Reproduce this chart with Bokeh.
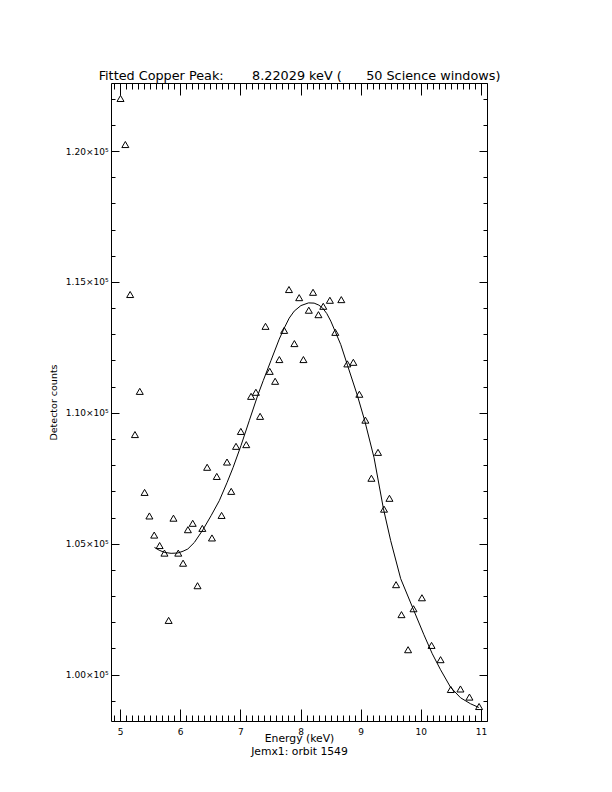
from bokeh.plotting import figure
from bokeh.models import (Range1d, LinearAxis, SingleIntervalTicker,
                          CustomJSTickFormatter)
from bokeh.embed import file_html
from bokeh.resources import INLINE

# ---- data ----
energy = [5.00, 5.08, 5.16, 5.24, 5.32, 5.40, 5.48, 5.56, 5.65, 5.73,
          5.80, 5.88, 5.96, 6.04, 6.12, 6.20, 6.28, 6.36, 6.44, 6.52,
          6.60, 6.68, 6.77, 6.84, 6.92, 7.00, 7.09, 7.17, 7.25, 7.32,
          7.41, 7.48, 7.57, 7.64, 7.72, 7.80, 7.89, 7.97, 8.04, 8.13,
          8.20, 8.29, 8.37, 8.48, 8.57, 8.67, 8.77, 8.87, 8.97, 9.07,
          9.17, 9.28, 9.38, 9.47, 9.58, 9.67, 9.78, 9.87, 10.01, 10.17,
          10.32, 10.49, 10.65, 10.80, 10.96]
counts = [121990, 120230, 114500, 109150, 110800, 106940, 106040, 105310, 104910, 104620,
          102050, 105955, 104620, 104235, 105515, 105760, 103375, 105565, 107900, 105200,
          107550, 106060, 108100, 106980, 108700, 109270, 108765, 110610, 110765, 109845,
          113285, 111565, 111185, 112015, 113130, 114690, 112625, 114380, 112015, 113900,
          114585, 113730, 114050, 114280, 113055, 114305, 111850, 111910, 110690, 109700,
          107480, 108470, 106300, 106715, 103415, 102270, 100930, 102495, 102915, 101095,
          100550, 99410, 99430, 99120, 98760]

fit_energy = [5.564, 5.642, 5.730, 5.841, 5.952, 6.040, 6.118, 6.228, 6.367, 6.505,
              6.642, 6.770, 6.870, 7.002, 7.140, 7.279, 7.372, 7.500, 7.638, 7.721,
              7.804, 7.887, 7.998, 8.125, 8.218, 8.296, 8.358, 8.429, 8.495, 8.573,
              8.661, 8.772, 8.938, 9.059, 9.214, 9.370, 9.491, 9.657, 9.877, 10.043,
              10.182, 10.320, 10.486, 10.652, 10.818, 10.956]
fit_counts = [104877, 104770, 104686, 104651, 104663, 104732, 104816, 105068, 105542, 106088,
              106662, 107350, 107923, 108764, 109719, 110675, 111248, 112013, 112834, 113255,
              113637, 113904, 114115, 114218, 114210, 114134, 114027, 113809, 113522, 113102,
              112624, 111841, 110675, 109719, 108305, 106356, 105133, 103681, 102458, 101540,
              100814, 100203, 99534, 99132, 98903, 98762]

x_min, x_max = 4.85, 11.1
y_min, y_max = 98226, 122600
x_major_step = 1
y_major_step = 5000

NB = "\u00a0"
title_text = ("Fitted Copper Peak:" + NB * 7 + "8.22029 keV (" + NB * 6 +
              "50 Science windows)")
x_label = "Energy (keV)"
y_label = "Detector counts"
sub_label = "Jemx1: orbit 1549"

FONT = "DejaVu Sans"

p = figure(width=604, height=784, output_backend="svg", toolbar_location=None,
           x_range=Range1d(x_min, x_max), y_range=Range1d(y_min, y_max),
           x_axis_type=None, y_axis_type=None,
           min_border_left=111, min_border_right=117,
           min_border_top=83, min_border_bottom=63)
p.background_fill_color = "white"
p.border_fill_color = "white"
p.outline_line_color = None


def style_axis(ax, tick_in, minor_in, show_labels):
    ax.axis_line_color = "black"
    ax.axis_line_width = 1
    ax.major_tick_line_color = "black"
    ax.minor_tick_line_color = "black"
    ax.major_tick_in = tick_in
    ax.major_tick_out = 0
    ax.minor_tick_in = minor_in
    ax.minor_tick_out = 0
    ax.major_label_text_font = FONT
    ax.major_label_text_color = "black"
    ax.axis_label_text_font = FONT
    ax.axis_label_text_font_style = "normal"
    ax.axis_label_text_color = "black"
    if not show_labels:
        ax.formatter = CustomJSTickFormatter(code="return '';")
        ax.major_label_text_font_size = "1px"
        ax.major_label_standoff = 0


def xticker():
    return SingleIntervalTicker(interval=x_major_step, num_minor_ticks=10)


def yticker():
    return SingleIntervalTicker(interval=y_major_step, num_minor_ticks=5)


xb = LinearAxis(ticker=xticker(), axis_label=x_label + "\n" + sub_label)
style_axis(xb, 12, 6, True)
xb.major_label_text_font_size = "9px"
xb.major_label_standoff = 6
xb.axis_label_text_font_size = "10.8px"
xb.axis_label_text_line_height = 1.0
xb.axis_label_standoff = -6
p.add_layout(xb, "below")

xt = LinearAxis(ticker=xticker())
style_axis(xt, 12, 6, False)
p.add_layout(xt, "above")

yl = LinearAxis(ticker=yticker(), axis_label=y_label)
style_axis(yl, 8, 4, True)
yl.formatter = CustomJSTickFormatter(
    code="return (tick/100000).toFixed(2) + '\u00d710\u2075';")
yl.major_label_text_font_size = "9px"
yl.major_label_standoff = 3
yl.axis_label_text_font_size = "9.5px"
yl.axis_label_standoff = 4
p.add_layout(yl, "left")

yr = LinearAxis(ticker=yticker())
style_axis(yr, 8, 4, False)
p.add_layout(yr, "right")

p.title.text = title_text
p.title.align = "center"
p.title.offset = -3
p.title.text_font = FONT
p.title.text_font_size = "12.8px"
p.title.text_font_style = "normal"
p.title.text_color = "black"
p.title.standoff = 1

p.line(fit_energy, fit_counts, line_color="black", line_width=1)
p.scatter(energy, counts, marker="triangle", size=7, fill_color=None,
          line_color="black", line_width=1)

open("out.html", "w").write(file_html(p, INLINE))
